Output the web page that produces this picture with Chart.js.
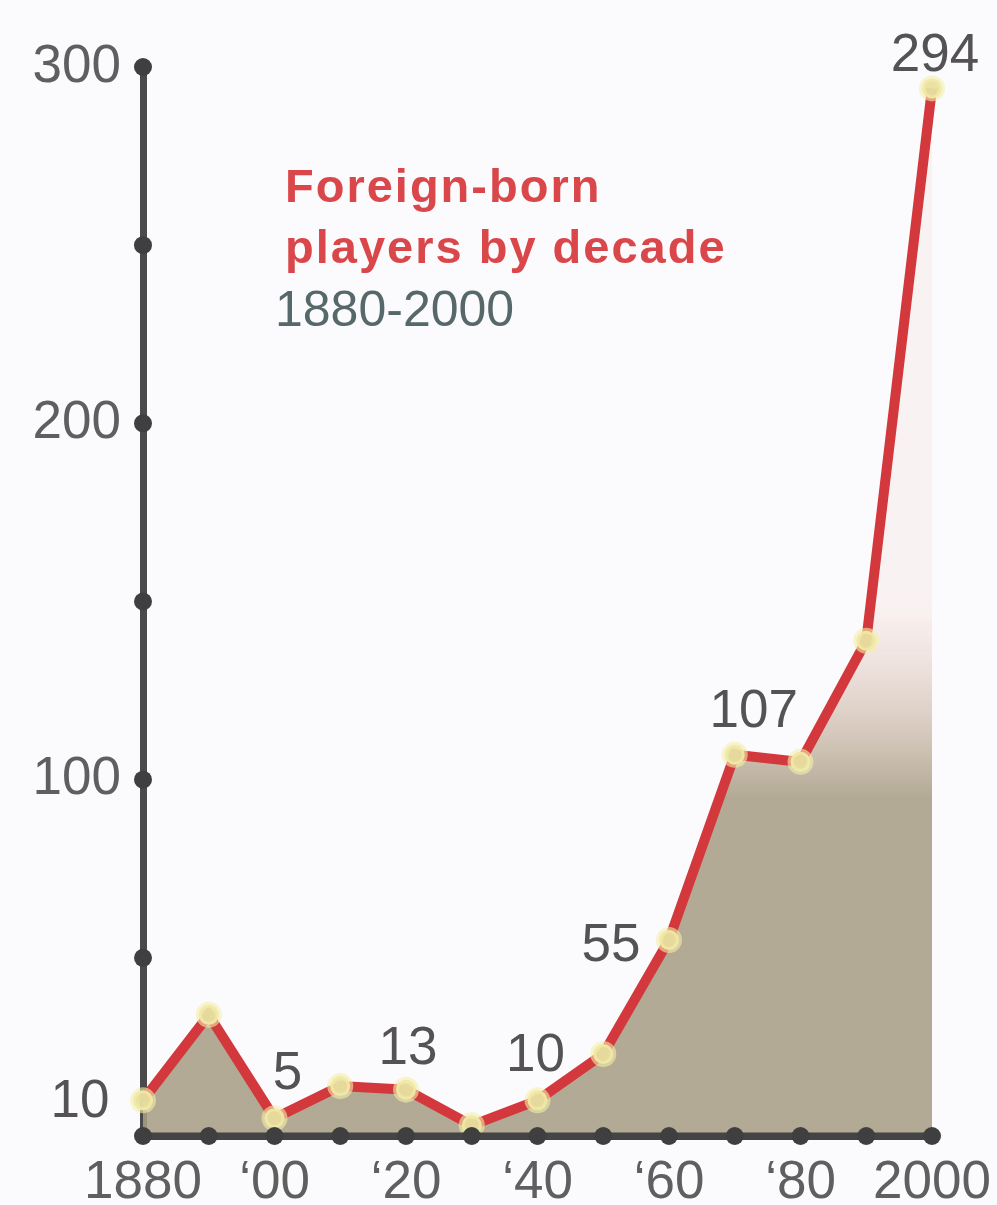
<!DOCTYPE html>
<html>
<head>
<meta charset="utf-8">
<script src="https://cdn.jsdelivr.net/npm/chart.js@4/dist/chart.umd.min.js"></script>
<style>
  html, body { margin: 0; padding: 0; background: #fbfafc; }
  #wrap { width: 997px; height: 1205px; position: relative; }
</style>
</head>
<body>
<div id="wrap"><canvas id="grafico" width="997" height="1205"></canvas></div>
<script>
// Dados
const decadas = [1880, 1890, 1900, 1910, 1920, 1930, 1940, 1950, 1960, 1970, 1980, 1990, 2000];
const jogadores = [10, 34, 5, 14, 13, 3, 10, 23, 55, 107, 105, 139, 294];
const rotulosEixoY = [100, 200, 300];
const indicesComRotulo = [0, 2, 4, 6, 8, 9, 12];

const titulo = ['Foreign-born', 'players by decade'];
const subtitulo = '1880-2000';

const fonteNum = '"Liberation Sans", Arial, sans-serif';

// Onde desenhar cada rótulo em relação ao ponto
const deslocRotulos = {
  0: [-63, 2], 2: [13, -44], 4: [2, -40], 6: [-2, -44],
  8: [-58, 6], 9: [19, -42], 12: [3, -32]
};

function rotuloDecada(d) {
  if (d === 1880 || d === 2000) return String(d);
  if ((d - 1880) % 20 !== 0) return '';
  return '\u2018' + String(d).slice(2);
}

// Eixos com bolinhas, rótulos do eixo x, título e rótulos dos valores
const pluginExtras = {
  id: 'extras',
  afterDatasetsDraw(chart) {
    const { ctx, scales, chartArea } = chart;
    const x = scales.x, y = scales.y;
    const base = y.getPixelForValue(0);

    // redesenha o eixo x por cima do preenchimento
    ctx.save();
    ctx.strokeStyle = '#444444';
    ctx.lineWidth = 7;
    ctx.beginPath();
    ctx.moveTo(chartArea.left, base);
    ctx.lineTo(chartArea.right, base);
    ctx.stroke();

    ctx.fillStyle = '#3f3f3f';
    decadas.forEach((d, i) => {
      ctx.beginPath();
      ctx.arc(x.getPixelForValue(i), base, 9, 0, Math.PI * 2);
      ctx.fill();
    });
    for (let v = 50; v <= 300; v += 50) {
      ctx.beginPath();
      ctx.arc(x.getPixelForValue(0), y.getPixelForValue(v), 9, 0, Math.PI * 2);
      ctx.fill();
    }

    ctx.font = '53px ' + fonteNum;
    ctx.textAlign = 'center';
    ctx.textBaseline = 'middle';

    // rótulos do eixo x
    ctx.fillStyle = '#5f5f5f';
    decadas.forEach((d, i) => {
      const txt = rotuloDecada(d);
      if (txt) ctx.fillText(txt, x.getPixelForValue(i), base + 47);
    });

    ctx.fillStyle = '#555255';
    indicesComRotulo.forEach(i => {
      const [dx, dy] = deslocRotulos[i];
      ctx.fillText(String(jogadores[i]), x.getPixelForValue(i) + dx, y.getPixelForValue(jogadores[i]) + dy);
    });

    ctx.textAlign = 'left';
    ctx.textBaseline = 'alphabetic';
    ctx.letterSpacing = '2px';
    ctx.font = 'bold 47px ' + fonteNum;
    ctx.fillStyle = '#d9474b';
    ctx.fillText(titulo[0], 285, 202);
    ctx.fillText(titulo[1], 285, 263);
    ctx.letterSpacing = '0px';
    ctx.font = '50px ' + fonteNum;
    ctx.fillStyle = '#56686a';
    ctx.fillText(subtitulo, 275, 326);
    ctx.restore();
  }
};

const canvas = document.getElementById('grafico');
new Chart(canvas.getContext('2d'), {
  type: 'line',
  data: {
    labels: decadas,
    datasets: [{
      data: jogadores,
      borderColor: '#d2383c',
      borderWidth: 10,
      tension: 0,
      fill: 'origin',
      backgroundColor: function(context) {
        const chart = context.chart;
        const area = chart.chartArea;
        if (!area) return 'rgba(168,158,134,0.85)';
        const y = chart.scales.y;
        const g = chart.ctx.createLinearGradient(0, y.getPixelForValue(150), 0, y.getPixelForValue(95));
        g.addColorStop(0, 'rgba(240,200,190,0.15)');
        g.addColorStop(1, 'rgba(168,158,134,0.88)');
        return g;
      },
      pointRadius: 10,
      pointBackgroundColor: 'rgba(232,224,160,0.95)',
      pointBorderColor: 'rgba(245,238,170,0.6)',
      pointBorderWidth: 6
    }]
  },
  options: {
    responsive: false,
    animation: false,
    layout: { padding: { top: 67, right: 65, left: 0, bottom: 0 } },
    plugins: {
      legend: { display: false },
      tooltip: { enabled: false }
    },
    scales: {
      x: {
        grid: { display: false, drawTicks: false },
        border: { display: true, color: '#454545', width: 7 },
        ticks: { display: false },
        afterFit: s => { s.height = 69; }
      },
      y: {
        min: 0,
        max: 300,
        grid: { display: false, drawTicks: false },
        border: { display: true, color: '#4a4a4a', width: 7 },
        ticks: {
          stepSize: 50,
          padding: 22,
          color: '#5f5f5f',
          font: { size: 53, family: fonteNum },
          callback: v => rotulosEixoY.includes(v) ? String(v) : ''
        },
        afterFit: s => { s.width = 143; }
      }
    }
  },
  plugins: [pluginExtras]
});
</script>
</body>
</html>
